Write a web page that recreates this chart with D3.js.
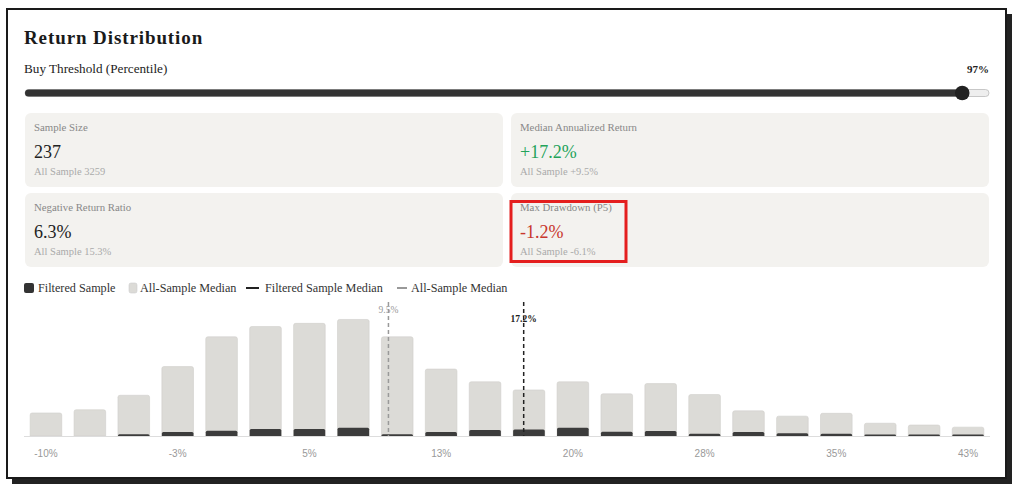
<!DOCTYPE html>
<html>
<head>
<meta charset="utf-8">
<script src="https://cdn.jsdelivr.net/npm/d3@7"></script>
<style>
  html, body { margin: 0; padding: 0; background: #fff; }
  svg { display: block; }
  .serif { font-family: "Liberation Serif", "Times New Roman", serif; }
  .sans { font-family: "Liberation Sans", Arial, sans-serif; }
</style>
</head>
<body>
<svg id="chart" width="1017" height="489"></svg>
<script>
// bin centres run from -10% in 2.5% steps; only every third bin is labelled
const binCenters = [-10, -7.5, -5, -2.5, 0, 2.5, 5, 7.5, 10, 12.5, 15, 17.5, 20, 22.5, 25, 27.5, 30, 32.5, 35, 37.5, 40, 42.5];
const tickLabels = ['-10%', '', '', '-3%', '', '', '5%', '', '', '13%', '', '', '20%', '', '', '28%', '', '', '35%', '', '', '43%'];
const allCounts = [65, 74, 115, 196, 280, 309, 318, 329, 280, 189, 153, 130, 153, 119, 148, 117, 71, 56, 64, 36, 31, 25];
const filteredCounts = [0, 0, 5, 11, 15, 20, 20, 23, 5, 11, 17, 18, 23, 12, 14, 6, 11, 8, 6, 4, 4, 4];

const thresholdPct = 97;
const allMedian = 9.5;
const filteredMedian = 17.2;

const stats = [
  { label: 'Sample Size', value: '237', sub: 'All Sample 3259', color: '#222' },
  { label: 'Median Annualized Return', value: '+17.2%', sub: 'All Sample +9.5%', color: '#23a35a' },
  { label: 'Negative Return Ratio', value: '6.3%', sub: 'All Sample 15.3%', color: '#222' },
  { label: 'Max Drawdown (P5)', value: '-1.2%', sub: 'All Sample -6.1%', color: '#c8372d' }
];

const legendItems = [
  { name: 'Filtered Sample', type: 'box', color: '#333' },
  { name: 'All-Sample Median', type: 'box', color: '#dcdbd7' },
  { name: 'Filtered Sample Median', type: 'line', color: '#222' },
  { name: 'All-Sample Median', type: 'line', color: '#999' }
];

const svg = d3.select('#chart');

// card frame with hard shadow
svg.append('rect').attr('x', 12).attr('y', 14).attr('width', 1000).attr('height', 470).attr('fill', '#222');
svg.append('rect').attr('x', 7).attr('y', 9).attr('width', 999).attr('height', 469)
  .attr('fill', '#fff').attr('stroke', '#1a1a1a').attr('stroke-width', 2);

svg.append('text').attr('class', 'serif')
  .attr('x', 24).attr('y', 44)
  .attr('font-size', 19).attr('font-weight', 'bold').attr('fill', '#1a1a1a')
  .attr('letter-spacing', 0.9)
  .text('Return Distribution');

svg.append('text').attr('class', 'serif')
  .attr('x', 24).attr('y', 73)
  .attr('font-size', 13.2).attr('fill', '#222')
  .text('Buy Threshold (Percentile)');

svg.append('text').attr('class', 'serif')
  .attr('x', 989).attr('y', 73).attr('text-anchor', 'end')
  .attr('font-size', 11).attr('font-weight', 'bold').attr('fill', '#222')
  .text(thresholdPct + '%');

// slider
const slide = d3.scaleLinear().domain([0, 100]).range([32, 991]);
svg.append('rect').attr('x', 25).attr('y', 89.5).attr('width', 964).attr('height', 7).attr('rx', 3.5)
  .attr('fill', '#eee').attr('stroke', '#bbb').attr('stroke-width', 0.8);
svg.append('rect').attr('x', 25).attr('y', 89.5).attr('width', slide(thresholdPct) - 25).attr('height', 7).attr('rx', 3.5)
  .attr('fill', '#333');
svg.append('circle').attr('cx', slide(thresholdPct)).attr('cy', 93).attr('r', 7.3).attr('fill', '#222');

// stat cards
const cardX = [25, 511], cardY = [113, 193];
stats.forEach((s, i) => {
  const cx = cardX[i % 2], cy = cardY[Math.floor(i / 2)];
  const g = svg.append('g').attr('transform', `translate(${cx},${cy})`);
  g.append('rect').attr('width', 478).attr('height', 74).attr('rx', 6).attr('fill', '#f3f2ef');
  g.append('text').attr('class', 'serif').attr('x', 9).attr('y', 18)
    .attr('font-size', 10.8).attr('fill', '#888').text(s.label);
  g.append('text').attr('class', 'serif').attr('x', 9).attr('y', 45)
    .attr('font-size', 18).attr('fill', s.color).text(s.value);
  g.append('text').attr('class', 'serif').attr('x', 9).attr('y', 62)
    .attr('font-size', 10.5).attr('fill', '#aaa').text(s.sub);
});

// highlight box
svg.append('rect').attr('x', 511).attr('y', 201.5).attr('width', 115).attr('height', 60)
  .attr('fill', 'none').attr('stroke', '#e41e1e').attr('stroke-width', 3);

// legend
const legendX = [24, 129, 246, 397];
const legend = svg.append('g').attr('transform', 'translate(0,288)');
legendItems.forEach((d, i) => {
  const g = legend.append('g').attr('transform', `translate(${legendX[i]},0)`);
  if (d.type === 'box') {
    g.append('rect').attr('x', 0).attr('y', -5).attr('width', i === 0 ? 10 : 8).attr('height', 10).attr('rx', 2)
      .attr('fill', d.color).attr('stroke', i === 0 ? 'none' : '#ccc').attr('stroke-width', 0.6);
  } else {
    g.append('line').attr('x1', 0).attr('x2', i === 3 ? 10 : 13).attr('y1', 0).attr('y2', 0)
      .attr('stroke', d.color).attr('stroke-width', 2);
  }
  g.append('text').attr('class', 'serif').attr('x', i === 0 ? 14 : (i === 1 ? 11 : (i === 2 ? 19 : 14))).attr('y', 4)
    .attr('font-size', 12.2).attr('fill', '#333').text(d.name);
});

// histogram
const y0 = 436, yTop = 302;
const x = d3.scaleBand().domain(d3.range(binCenters.length)).range([24, 990]).paddingInner(0.28).paddingOuter(0.14);
const y = d3.scaleLinear().domain([0, d3.max(allCounts) * 1.15]).range([y0, yTop]);
const xv = d3.scaleLinear()
  .domain([binCenters[0], binCenters[binCenters.length - 1]])
  .range([x(0) + x.bandwidth() / 2, x(binCenters.length - 1) + x.bandwidth() / 2]);

function topRounded(bx, by, w, h, r) {
  r = Math.min(r, h, w / 2);
  return `M${bx},${by + h}V${by + r}Q${bx},${by} ${bx + r},${by}H${bx + w - r}Q${bx + w},${by} ${bx + w},${by + r}V${by + h}Z`;
}

const chart = svg.append('g');
chart.selectAll('path.all').data(allCounts).join('path').attr('class', 'all')
  .attr('d', (d, i) => topRounded(x(i), y(d), x.bandwidth(), y0 - y(d), 2))
  .attr('fill', '#dcdbd7').attr('stroke', '#d0cfcb').attr('stroke-width', 0.6);

chart.selectAll('path.filt').data(filteredCounts).join('path').attr('class', 'filt')
  .attr('d', (d, i) => d > 0 ? topRounded(x(i), y(d), x.bandwidth(), y0 - y(d), 1.5) : null)
  .attr('fill', '#3c3c3c');

chart.append('line').attr('x1', 24).attr('x2', 990).attr('y1', y0 + 0.5).attr('y2', y0 + 0.5)
  .attr('stroke', '#ddd').attr('stroke-width', 1);

// tick labels
chart.selectAll('text.tick').data(tickLabels).join('text').attr('class', 'tick sans')
  .attr('x', (d, i) => x(i) + x.bandwidth() / 2).attr('y', 457)
  .attr('text-anchor', 'middle').attr('font-size', 10).attr('fill', '#999')
  .text(d => d);

// median markers
chart.append('line').attr('x1', xv(allMedian)).attr('x2', xv(allMedian)).attr('y1', yTop).attr('y2', y0)
  .attr('stroke', '#999').attr('stroke-width', 1.5).attr('stroke-dasharray', '4,3');
chart.append('text').attr('class', 'serif').attr('x', xv(allMedian)).attr('y', 313)
  .attr('text-anchor', 'middle').attr('font-size', 9.5).attr('fill', '#999').text(allMedian + '%');

chart.append('line').attr('x1', xv(filteredMedian)).attr('x2', xv(filteredMedian)).attr('y1', yTop).attr('y2', y0)
  .attr('stroke', '#222').attr('stroke-width', 1.5).attr('stroke-dasharray', '4,3');
chart.append('text').attr('class', 'serif').attr('x', xv(filteredMedian)).attr('y', 322)
  .attr('text-anchor', 'middle').attr('font-size', 9.5).attr('font-weight', 'bold').attr('fill', '#222').text(filteredMedian + '%');
</script>
</body>
</html>
